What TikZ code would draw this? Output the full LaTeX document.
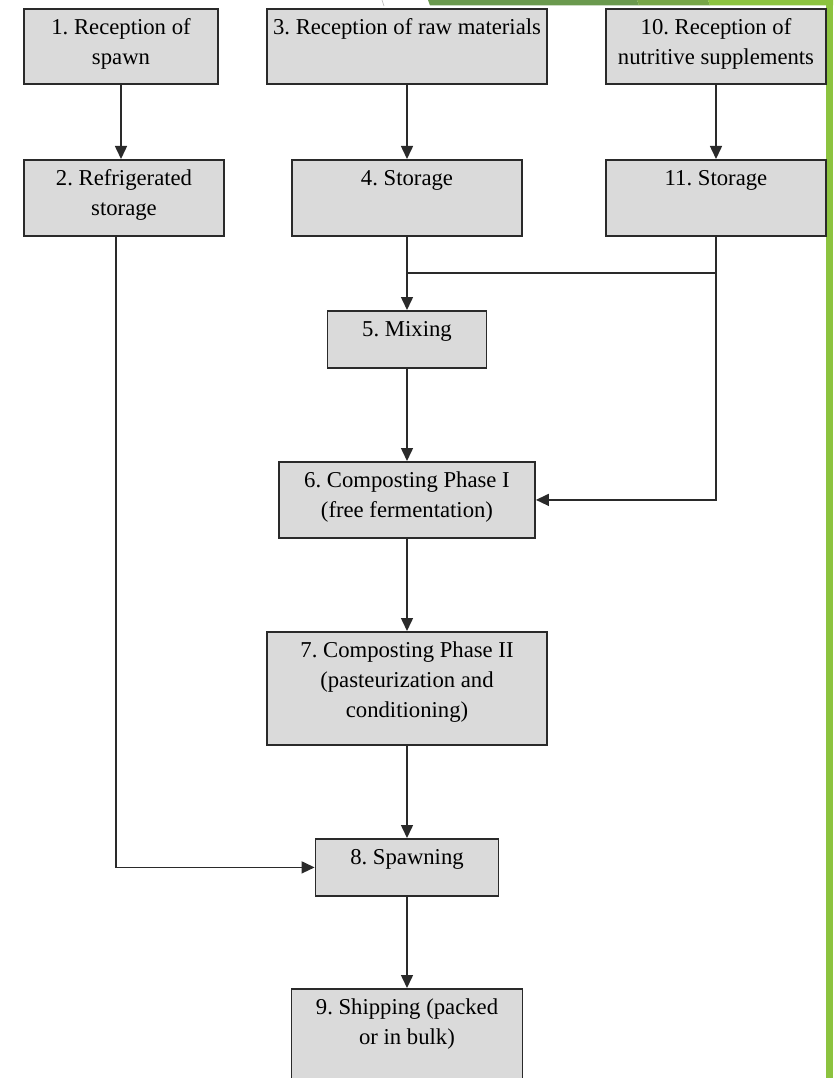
\documentclass[tikz,border=0pt]{standalone}
\usepackage{fontspec}
\setmainfont{Liberation Serif}
\usetikzlibrary{arrows.meta}
\usepackage{xcolor}
\frenchspacing

\definecolor{boxgray}{HTML}{DADADA}
\definecolor{linegray}{HTML}{2A2A2A}
\definecolor{leafdark}{HTML}{6A994E}
\definecolor{leafmid}{HTML}{77A647}
\definecolor{leaflight}{HTML}{8CC33F}

\tikzset{
  stage/.style={draw=linegray, line width=1.8pt, fill=boxgray, anchor=north,
    align=center, inner xsep=3pt, inner ysep=0pt, text height=26pt,
    font=\fontsize{22.7}{30}\selectfont},
  twolines/.style={text height=56pt},
  link/.style={draw=linegray, line width=1.5pt},
}

\begin{document}
\begin{tikzpicture}[x=1pt, y=-1pt, >={Triangle[width=12pt,length=13pt]}]
    \useasboundingbox (0,0) rectangle (833,1078);

    % Slide decoration
    \fill[leafdark] (428,0) -- (637,0) -- (639,5.5) -- (430,5.5) -- cycle;
    \fill[leafmid] (637,0) -- (708,0) -- (710,5.5) -- (639,5.5) -- cycle;
    \fill[leaflight] (708,0) -- (833,0) -- (833,5.5) -- (710,5.5) -- cycle;
    \fill[leaflight] (826,0) rectangle (833,1078);
    \draw[gray!60, line width=0.6pt] (382,0) -- (384,6);

    % Receptions
    \node[stage, twolines, minimum width=194pt, text depth=19pt] (rspawn) at (121,8) {1. Reception of\\spawn};
    \node[stage, minimum width=280pt, text depth=49pt] (rraw) at (407,8) {3. Reception of raw materials};
    \node[stage, twolines, minimum width=220pt, text depth=19pt] (rsupp) at (716,8) {10. Reception of\\nutritive supplements};

    % Storage
    \node[stage, twolines, minimum width=200pt, text depth=20pt] (fridge) at (124,159) {2. Refrigerated\\storage};
    \node[stage, minimum width=230pt, text depth=50pt] (store) at (407,159) {4. Storage};
    \node[stage, minimum width=220pt, text depth=50pt] (suppstore) at (716,159) {11. Storage};

    % Process chain
    \node[stage, minimum width=159pt, text depth=31pt] (mix) at (407,310) {5. Mixing};
    \node[stage, twolines, minimum width=256pt, text depth=20pt] (phaseone) at (407,461) {6. Composting Phase I\\(free fermentation)};
    \node[stage, text height=86pt, minimum width=280pt, text depth=27pt] (phasetwo) at (407,631) {7. Composting Phase II\\(pasteurization and\\conditioning)};
    \node[stage, minimum width=183pt, text depth=31pt] (spawning) at (407,838) {8. Spawning};
    \node[stage, twolines, minimum width=231pt, text depth=46pt] (ship) at (407,988) {9. Shipping (packed\\or in bulk)};

    \coordinate (merge) at (716,273);

    % Connections
    \draw[link, ->] (rspawn.south) -- (rspawn.south |- fridge.north);
    \draw[link, ->] (rraw) -- (store);
    \draw[link, ->] (rsupp) -- (suppstore);

    \draw[link, ->] (store) -- (mix);
    \draw[link] (store.south |- merge) -- (merge);
    \draw[link, ->] (suppstore.south) |- (phaseone.east);

    \draw[link, ->] (mix) -- (phaseone);
    \draw[link, ->] (phaseone) -- (phasetwo);
    \draw[link, ->] (phasetwo) -- (spawning);
    \draw[link, ->] ([xshift=-8pt]fridge.south) |- (spawning.west);
    \draw[link, ->] (spawning) -- (ship);
\end{tikzpicture}
\end{document}
